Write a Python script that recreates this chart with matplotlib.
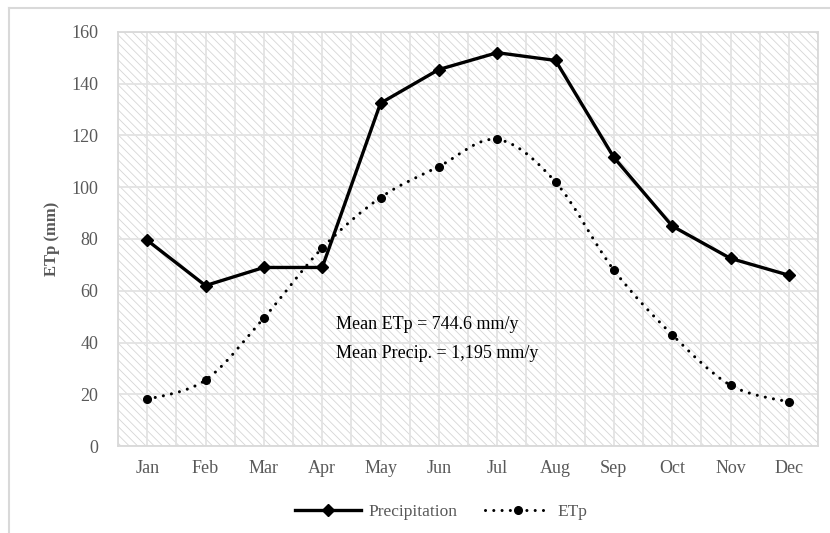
import matplotlib
matplotlib.use("Agg")
import matplotlib.pyplot as plt
from matplotlib.lines import Line2D
from matplotlib.path import Path
from matplotlib.patches import PathPatch, Rectangle

# Monthly values
months = ["Jan", "Feb", "Mar", "Apr", "May", "Jun",
          "Jul", "Aug", "Sep", "Oct", "Nov", "Dec"]
precipitation = [79.5, 62, 69, 69, 132.5, 145.5, 152, 149, 111.5, 85, 72.5, 66]
etp = [18, 25.5, 49.5, 76.5, 96, 108, 118.5, 102, 68, 43, 23.5, 17]
yticks = [0, 20, 40, 60, 80, 100, 120, 140, 160]
note_lines = ["Mean ETp = 744.6 mm/y", "Mean Precip. = 1,195 mm/y"]

plt.rcParams["font.family"] = ["Liberation Serif", "DejaVu Serif"]
plt.rcParams["hatch.linewidth"] = 0.6
grey_text = "#595959"
grid_grey = "#e3e3e3"

fig = plt.figure(figsize=(8.30, 5.33), dpi=100)
ax = fig.add_axes([0.1422, 0.1632, 0.8434, 0.7768])

x = list(range(len(months)))
ax.set_xlim(-0.5, len(months) - 0.5)
ax.set_ylim(0, 160)

# hatched plot area
ax.add_patch(Rectangle((0, 0), 1, 1, transform=ax.transAxes, facecolor="white",
                       edgecolor="#d6d6d6", hatch="\\" * 4, linewidth=0, zorder=0))

ax.set_axisbelow(True)
ax.set_xticks(x)
ax.set_xticklabels(months)
ax.set_xticks([i - 0.5 for i in range(len(months) + 1)], minor=True)
ax.set_yticks(yticks)
ax.grid(True, which="both", color=grid_grey, linewidth=1.3)
ax.tick_params(which="both", length=0, labelsize=13, labelcolor=grey_text)
ax.tick_params(axis="x", pad=10)
ax.tick_params(axis="y", pad=14)
for sp in ax.spines.values():
    sp.set_color("#d9d9d9")
    sp.set_linewidth(1.3)

ax.set_ylabel("ETp (mm)", fontsize=12, fontweight="bold", color=grey_text, labelpad=8)

# precipitation: solid line with diamonds
ax.plot(x, precipitation, color="black", linewidth=2.4, marker="D", markersize=6.5, zorder=4)

# ETp: smoothed dotted curve (Catmull-Rom as cubic Bezier through the points)
verts = [(x[0], etp[0])]
codes = [Path.MOVETO]
n = len(x)
for i in range(n - 1):
    p0 = (x[max(i - 1, 0)], etp[max(i - 1, 0)])
    p1 = (x[i], etp[i])
    p2 = (x[i + 1], etp[i + 1])
    p3 = (x[min(i + 2, n - 1)], etp[min(i + 2, n - 1)])
    c1 = (p1[0] + (p2[0] - p0[0]) / 6, p1[1] + (p2[1] - p0[1]) / 6)
    c2 = (p2[0] - (p3[0] - p1[0]) / 6, p2[1] - (p3[1] - p1[1]) / 6)
    verts += [c1, c2, p2]
    codes += [Path.CURVE4] * 3
ax.add_patch(PathPatch(Path(verts, codes), fill=False, edgecolor="black",
                       linewidth=2.2, linestyle=(0, (0.01, 2.7)), capstyle="round", zorder=3))
ax.plot(x, etp, linestyle="none", color="black", marker="o", markersize=5.5, zorder=4)

ax.text(3.24, 46.8, note_lines[0], fontsize=13, va="center", ha="left", color="black")
ax.text(3.24, 35.9, note_lines[1], fontsize=13, va="center", ha="left", color="black")

handles = [
    Line2D([], [], color="black", linewidth=2.4, marker="D", markersize=6.5),
    Line2D([], [], color="black", linewidth=2.2, linestyle=(0, (0.01, 2.7)),
           dash_capstyle="round", marker="o", markersize=5.5),
]
fig.legend(handles, ["Precipitation", "ETp"], loc="center", bbox_to_anchor=(0.532, 0.04),
           ncol=2, frameon=False, fontsize=12.5, handlelength=3.8, columnspacing=1.6,
           labelcolor=grey_text, handletextpad=0.4)

# outer chart frame (left and top edges visible)
fig.add_artist(Line2D([0.0108, 0.0108], [0, 0.985], transform=fig.transFigure,
                      color="#d9d9d9", linewidth=1.5))
fig.add_artist(Line2D([0.0108, 1.0], [0.985, 0.985], transform=fig.transFigure,
                      color="#d9d9d9", linewidth=1.5))

fig.savefig("out.png", dpi=100)
